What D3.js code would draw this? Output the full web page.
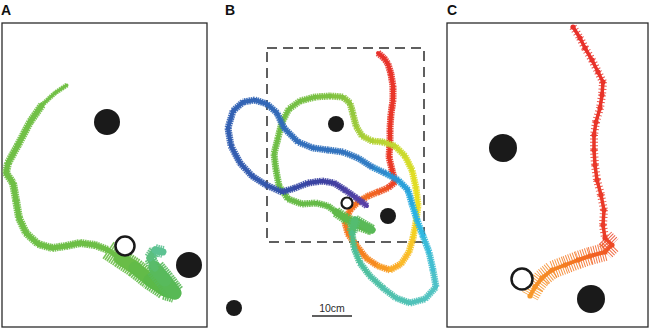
<!DOCTYPE html>
<html><head><meta charset="utf-8">
<script src="https://cdn.jsdelivr.net/npm/d3@7"></script>
<style>body{margin:0;background:#fff}svg{display:block}</style>
</head><body>
<svg id="chart" width="652" height="328"></svg>
<script>
// ---------- DATA (positions in cm within each arena) ----------
const panelLabels = ["A", "B", "C"];

// Panel A
const arenaA = [41, 60.8];
const blackA = [[21, 19.8], [37.4, 48.4]];
const openA = [[24.6, 44.6]];
const trackA = [
  [13,12.4],[10.6,14],[8,16.4],[5.6,19.8],[3.2,24.4],[1.2,28],[0.8,30],[2.2,32],[2.8,35.4],
  [3.4,39],[4.8,42],[7.2,44.2],[10,45],[12.8,44.6],[15.6,44],[18.6,44.4],[21.2,45.4],[23.6,47],
  [26.6,49],[29.6,51.4],[32.6,53.4],[34.6,54],[32.6,51.4],[30.6,49],[29.6,47],[30.6,45.4],[32.2,45.8]
];
const trackATime = [0, 17, 20, 23, 26];
const trackAColors = ["#72c046", "#6cbe46", "#58b84a", "#58ba60", "#5ec39c"];

// Panel B
const arenaB = [39.25, 48.5];
const blackB = [[17.25, 19], [30.25, 42], [-8.25, 65]];
const openB = [[20, 38.75]];
const scaleBarB = [11.25, 21.25, 67];
const scaleBarLabel = "10cm";
const trackB = [
  [27.75,1.25],[29.25,2.5],[30.25,4],[31,6.5],[31.5,9.5],[31.5,13],[31,16.5],[30.75,20],[30.75,23.5],[30.5,27.25],[31.25,30.5],[32,33.5],
  [30.25,35],[27.75,36],[25.25,37],[22.75,38.5],[20.75,40.5],[19.5,43.5],[20.25,46.5],[22.25,49.25],[24.75,52.5],
  [27.75,54.5],[30.75,55.5],[33.5,54],
  [35.5,51],[36.5,47.5],[37.25,43.5],[37.75,39.25],[37.25,35],[36.25,30.5],
  [34.5,27],[32,24.5],[29,23.5],
  [26.25,23.25],[23.75,22],[22.25,19.5],[21.5,16.5],[20.75,13.75],[19,12.25],
  [15.75,12],[12,12.25],[8.25,13.25],[5.5,15.25],[3.75,18.5],[2.75,22.5],[1.75,26.5],[2.25,30.5],[3,34.5],[5.25,37.75],[8.75,39],[12.25,38.75],[15.25,39.5],[17.25,41],
  [19.5,42.5],[23.25,44.5],[26.25,45.5],
  [22,43],[21.25,46],[21.75,50],[23.25,53.75],[25.75,57],[29,60],[32.25,62.5],[35.75,63.75],[39.5,62.75],[42.25,59.75],
  [41.5,55.5],[40.5,51],[39,47],[37.5,43],[36.25,39],
  [35.25,35.5],[32.75,33],
  [29.5,31.25],[26.25,29.75],[22.75,27.5],[19,26],[15.25,25.5],[11.5,25],[7.75,23.5],[4.25,20],[2.5,16.25],[0,14],[-3,13],[-6,13.5],[-8.5,15.75],[-9.75,20],[-9,24.5],[-6.75,28.75],[-3.75,32],[-0.25,34.25],[3.75,36],
  [7,35],[10.25,33.75],[13.75,33.25],[16.75,33.75],[19.5,35.5],
  [22,37.25],[23.75,38.5],[25,39.5]
];
const trackBTime = [0, 11, 14, 20, 23, 27, 31, 35, 40, 55, 58, 65, 69, 72, 75, 90, 94, 99];
const trackBColors = ["#e8312b", "#ea3a26", "#f26b21", "#f5821f", "#fbb42a", "#f0e01e", "#c5d930", "#9fcb3b",
  "#78c043", "#5bb84a", "#4dbf95", "#52c3c4", "#29b6e6", "#2a9bd8", "#3276c0", "#3358ad", "#3b40a0", "#5a3fa8"];

// Panel C
const arenaC = [40.2, 60.8];
const blackC = [[11.2, 25], [28.8, 55.2]];
const openC = [[15, 51.2]];
const trackC = [
  [25.2,0.8],[26.6,3],[27.6,5],[29,7.4],[30.2,9.8],[31.2,11.8],[31,14.4],[30.6,17],[29.8,19.8],[29.4,22.4],
  [29.4,25.4],[29.6,28.4],[30,31.4],[30.8,34.4],[31.4,37.4],[31.2,40.4],[31.6,43],[33,44.4],
  [31.6,45.8],[28.6,46.6],[26.2,47.4],[23.6,48.4],[21,49.4],[19,51],[17.6,52.8],[16.6,54.6]
];
const trackCTime = [0, 16, 18, 21, 25];
const trackCColors = ["#e8302a", "#ea3b28", "#f15a24", "#f47d22", "#f79a2b"];

// ---------- DRAW ----------
const svg = d3.select("#chart");
const frameColor = "#2b2b2b";

const xA = d3.scaleLinear().domain([0, arenaA[0]]).range([2, 207]);
const yA = d3.scaleLinear().domain([0, arenaA[1]]).range([23, 327]);
const xB = d3.scaleLinear().domain([0, arenaB[0]]).range([267, 424]);
const yB = d3.scaleLinear().domain([0, arenaB[1]]).range([48, 242]);
const xC = d3.scaleLinear().domain([0, arenaC[0]]).range([447, 648]);
const yC = d3.scaleLinear().domain([0, arenaC[1]]).range([23, 327]);

function drawTrack(pts, times, colors, xs, ys, o) {
  const col = d3.scaleLinear().domain(times).range(colors).interpolate(d3.interpolateRgb);
  const g = svg.append("g");
  const segs = d3.pairs(pts).map((p, i) => ({a: p[0], b: p[1], i}));
  const sg = g.selectAll("g").data(segs).join("g");
  sg.append("line")
    .attr("x1", d => xs(d.a[0])).attr("y1", d => ys(d.a[1]))
    .attr("x2", d => xs(d.b[0])).attr("y2", d => ys(d.b[1]))
    .attr("stroke", d => col(d.i + 0.5)).attr("stroke-width", d => o.band(d.i))
    .attr("stroke-opacity", o.bandOpacity)
    .attr("stroke-dasharray", d => o.dash(d.i)).attr("stroke-linecap", "butt");
  sg.append("line")
    .attr("x1", d => xs(d.a[0])).attr("y1", d => ys(d.a[1]))
    .attr("x2", d => xs(d.b[0])).attr("y2", d => ys(d.b[1]))
    .attr("stroke", d => col(d.i + 0.5)).attr("stroke-width", d => o.core(d.i))
    .attr("stroke-linecap", "round");
  if (o.dot) {
    g.selectAll("circle").data(pts).join("circle")
      .attr("cx", d => xs(d[0])).attr("cy", d => ys(d[1])).attr("r", o.dot)
      .attr("fill", (d, i) => col(i));
  }
}

function drawSpots(black, open, xs, ys, rb, ro, sw) {
  svg.append("g").selectAll("circle").data(black).join("circle")
    .attr("cx", d => xs(d[0])).attr("cy", d => ys(d[1])).attr("r", rb).attr("fill", "#1a1a1a");
  svg.append("g").selectAll("circle").data(open).join("circle")
    .attr("cx", d => xs(d[0])).attr("cy", d => ys(d[1])).attr("r", ro)
    .attr("fill", "#fff").attr("stroke", "#1a1a1a").attr("stroke-width", sw);
}

// Frames
svg.append("rect").attr("x", xA(0)).attr("y", yA(0)).attr("width", xA(arenaA[0]) - xA(0)).attr("height", yA(arenaA[1]) - yA(0))
  .attr("fill", "none").attr("stroke", frameColor).attr("stroke-width", 1.3);
svg.append("rect").attr("x", xC(0)).attr("y", yC(0)).attr("width", xC(arenaC[0]) - xC(0)).attr("height", yC(arenaC[1]) - yC(0))
  .attr("fill", "none").attr("stroke", frameColor).attr("stroke-width", 1.3);
svg.append("rect").attr("x", xB(0)).attr("y", yB(0)).attr("width", xB(arenaB[0]) - xB(0)).attr("height", yB(arenaB[1]) - yB(0))
  .attr("fill", "none").attr("stroke", frameColor).attr("stroke-width", 1.5).attr("stroke-dasharray", "10 6");

// Tracks
drawTrack(trackA, trackATime, trackAColors, xA, yA, {
  band: i => (i >= 16 && i <= 22 ? 20 : i >= 23 ? 12 : i <= 1 ? 5 : 8),
  core: i => (i >= 17 && i <= 22 ? 13 : i >= 23 ? 7 : i <= 1 ? 3 : 5),
  dash: () => "1.6 0.7", bandOpacity: 0.9});
drawTrack(trackB, trackBTime, trackBColors, xB, yB, {
  band: i => (i >= 52 && i <= 56 ? 11 : 7), core: i => (i >= 52 && i <= 56 ? 7 : 4),
  dash: () => "1.6 0.7", bandOpacity: 0.9});
drawTrack(trackC, trackCTime, trackCColors, xC, yC, {
  band: i => (i >= 16 ? 18 : 8), core: i => (i >= 18 ? 4 : 3.5),
  dash: i => (i >= 16 ? "1 1.4" : "1 2.4"), bandOpacity: 0.85, dot: 2.6});

// Spots
drawSpots(blackA, openA, xA, yA, 13, 9.5, 2.5);
drawSpots(blackB, openB, xB, yB, 8, 5.5, 2.2);
drawSpots(blackC, openC, xC, yC, 14, 10.5, 2.5);

// Scale bar
svg.append("line").attr("x1", xB(scaleBarB[0])).attr("x2", xB(scaleBarB[1]))
  .attr("y1", yB(scaleBarB[2])).attr("y2", yB(scaleBarB[2]))
  .attr("stroke", "#2b2b2b").attr("stroke-width", 1.3);
svg.append("text").attr("x", (xB(scaleBarB[0]) + xB(scaleBarB[1])) / 2).attr("y", yB(scaleBarB[2]) - 4)
  .attr("text-anchor", "middle").attr("font-family", "Liberation Sans, Arial, sans-serif")
  .attr("font-size", 10.5).attr("fill", "#2b2b2b").text(scaleBarLabel);

// Panel labels
const labelX = [1, 225, 447];
svg.selectAll("text.pl").data(panelLabels).join("text").attr("class", "pl")
  .attr("x", (d, i) => labelX[i]).attr("y", 15)
  .attr("font-family", "Liberation Sans, Arial, sans-serif").attr("font-weight", "bold")
  .attr("font-size", 14).attr("fill", "#111").text(d => d);
</script>
</body></html>
